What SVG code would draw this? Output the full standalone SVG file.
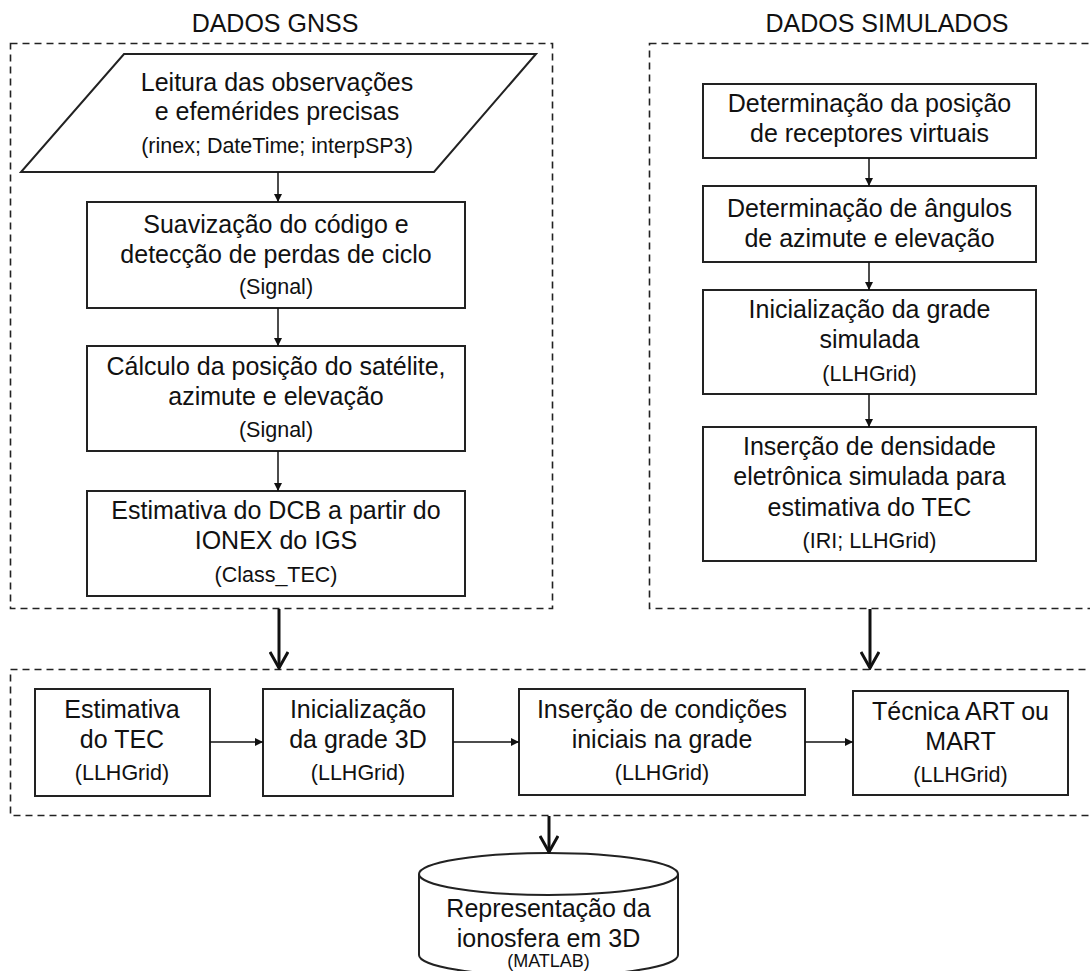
<svg xmlns="http://www.w3.org/2000/svg" width="1090" height="971" viewBox="0 0 1090 971">
<style>
text{font-family:"Liberation Sans",Arial,sans-serif;fill:#111;text-anchor:middle}
.t{font-size:25px}
.s{font-size:21.5px}
.m{font-size:18px}
.box{fill:#fff;stroke:#222;stroke-width:2}
.dash{fill:none;stroke:#222;stroke-width:1.6;stroke-dasharray:7 5}
.thin{fill:none;stroke:#111;stroke-width:1.5}
.thick{fill:none;stroke:#111;stroke-width:3}
</style>
<defs>
<marker id="ah" viewBox="0 0 10 10" refX="10" refY="5" markerWidth="9" markerHeight="8" markerUnits="userSpaceOnUse" orient="auto">
<path d="M0,0 L10,5 L0,10 z" fill="#111"/>
</marker>
<marker id="av" viewBox="0 0 20 20" refX="18" refY="10" markerWidth="20" markerHeight="20" markerUnits="userSpaceOnUse" orient="auto">
<path d="M2,1 L18,10 L2,19" fill="none" stroke="#111" stroke-width="3"/>
</marker>
</defs>
<rect width="1090" height="971" fill="#fff"/>

<g id="groups">
<text class="t" x="275" y="32">DADOS GNSS</text>
<rect class="dash" x="10.5" y="43.5" width="542" height="565"/>
<text class="t" x="887" y="32">DADOS SIMULADOS</text>
<rect class="dash" x="649.5" y="43.5" width="450" height="565"/>
<rect class="dash" x="10.5" y="669.5" width="1090" height="146"/>
</g>

<g id="n-leitura">
<polygon class="box" points="124,54 536,54 434,172 21,172"/>
<text class="t" x="277" y="91">Leitura das observações</text>
<text class="t" x="277" y="120">e efemérides precisas</text>
<text class="s" x="277" y="153">(rinex; DateTime; interpSP3)</text>
</g>
<g id="n-suavizacao">
<rect class="box" x="87" y="202" width="378" height="106"/>
<text class="t" x="276" y="233">Suavização do código e</text>
<text class="t" x="276" y="263">detecção de perdas de ciclo</text>
<text class="s" x="276" y="294">(Signal)</text>
</g>
<g id="n-calculo">
<rect class="box" x="87" y="346" width="378" height="105"/>
<text class="t" x="276" y="375">Cálculo da posição do satélite,</text>
<text class="t" x="276" y="405">azimute e elevação</text>
<text class="s" x="276" y="437">(Signal)</text>
</g>
<g id="n-dcb">
<rect class="box" x="87" y="491" width="378" height="105"/>
<text class="t" x="276" y="519">Estimativa do DCB a partir do</text>
<text class="t" x="276" y="549">IONEX do IGS</text>
<text class="s" x="276" y="582">(Class_TEC)</text>
</g>

<g id="n-receptores">
<rect class="box" x="703" y="84" width="333" height="74"/>
<text class="t" x="869.5" y="112">Determinação da posição</text>
<text class="t" x="869.5" y="142">de receptores virtuais</text>
</g>
<g id="n-angulos">
<rect class="box" x="703" y="186" width="333" height="76"/>
<text class="t" x="869.5" y="217">Determinação de ângulos</text>
<text class="t" x="869.5" y="247">de azimute e elevação</text>
</g>
<g id="n-grade-sim">
<rect class="box" x="703" y="290" width="333" height="104"/>
<text class="t" x="869.5" y="318">Inicialização da grade</text>
<text class="t" x="869.5" y="348">simulada</text>
<text class="s" x="869.5" y="381">(LLHGrid)</text>
</g>
<g id="n-densidade">
<rect class="box" x="703" y="427" width="333" height="134"/>
<text class="t" x="869.5" y="455">Inserção de densidade</text>
<text class="t" x="869.5" y="485">eletrônica simulada para</text>
<text class="t" x="869.5" y="516">estimativa do TEC</text>
<text class="s" x="869.5" y="548">(IRI; LLHGrid)</text>
</g>

<g id="n-tec">
<rect class="box" x="35" y="689" width="175" height="107"/>
<text class="t" x="122" y="718">Estimativa</text>
<text class="t" x="122" y="748">do TEC</text>
<text class="s" x="122" y="780">(LLHGrid)</text>
</g>
<g id="n-grade3d">
<rect class="box" x="263" y="689" width="190" height="107"/>
<text class="t" x="358" y="718">Inicialização</text>
<text class="t" x="358" y="748">da grade 3D</text>
<text class="s" x="358" y="780">(LLHGrid)</text>
</g>
<g id="n-condicoes">
<rect class="box" x="519" y="689" width="286" height="106"/>
<text class="t" x="662" y="718">Inserção de condições</text>
<text class="t" x="662" y="748">iniciais na grade</text>
<text class="s" x="662" y="780">(LLHGrid)</text>
</g>
<g id="n-art">
<rect class="box" x="853" y="691" width="215" height="104"/>
<text class="t" x="960.5" y="720">Técnica ART ou</text>
<text class="t" x="960.5" y="750">MART</text>
<text class="s" x="960.5" y="782">(LLHGrid)</text>
</g>

<g id="n-ionosfera">
<path class="box" d="M419,874 L419,955 A129.5,21 0 0 0 678,955 L678,874"/>
<ellipse class="box" cx="548.5" cy="874" rx="129.5" ry="21"/>
<text class="t" x="548.5" y="917">Representação da</text>
<text class="t" x="548.5" y="947">ionosfera em 3D</text>
<text class="m" x="548.5" y="967">(MATLAB)</text>
</g>

<g id="connectors">
<line class="thin" x1="278" y1="172" x2="278" y2="202" marker-end="url(#ah)"/>
<line class="thin" x1="278" y1="308" x2="278" y2="346" marker-end="url(#ah)"/>
<line class="thin" x1="278" y1="451" x2="278" y2="491" marker-end="url(#ah)"/>
<line class="thin" x1="869" y1="158" x2="869" y2="186" marker-end="url(#ah)"/>
<line class="thin" x1="869" y1="262" x2="869" y2="290" marker-end="url(#ah)"/>
<line class="thin" x1="869" y1="394" x2="869" y2="427" marker-end="url(#ah)"/>
<line class="thin" x1="210" y1="742" x2="263" y2="742" marker-end="url(#ah)"/>
<line class="thin" x1="453" y1="742" x2="519" y2="742" marker-end="url(#ah)"/>
<line class="thin" x1="805" y1="742" x2="853" y2="742" marker-end="url(#ah)"/>
<line class="thick" x1="279" y1="609" x2="279" y2="668" marker-end="url(#av)"/>
<line class="thick" x1="870" y1="609" x2="870" y2="668" marker-end="url(#av)"/>
<line class="thick" x1="549" y1="816" x2="549" y2="852" marker-end="url(#av)"/>
</g>
</svg>
